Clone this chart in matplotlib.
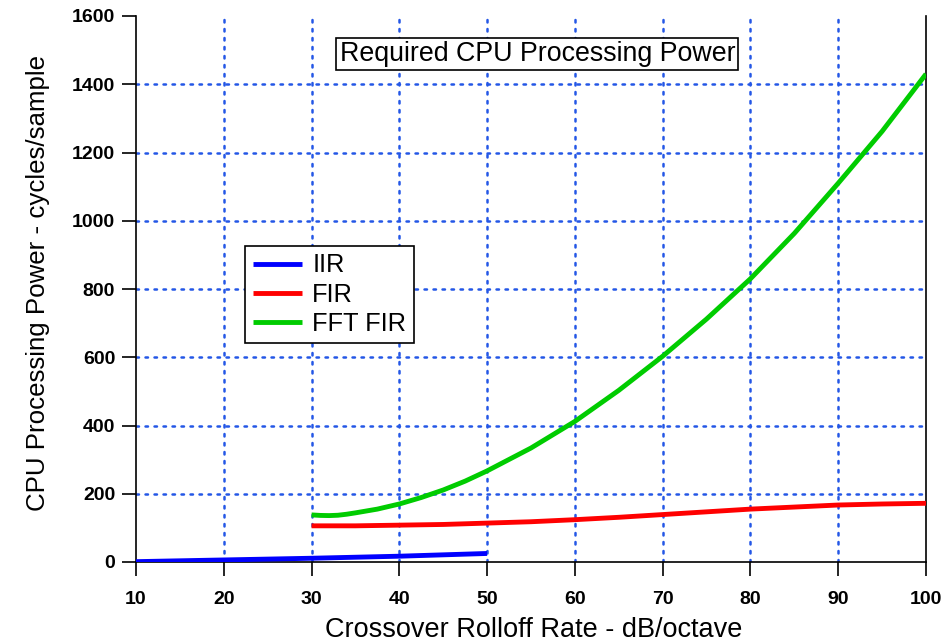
import matplotlib
matplotlib.use("Agg")
import matplotlib.pyplot as plt

plt.rcParams['font.family'] = ['Liberation Sans', 'DejaVu Sans']

# Crossover rolloff rate (dB/octave) vs. processing cost (cycles/sample)
iir_x = [10, 20, 30, 40, 50]
iir_y = [1, 6, 11, 17, 25]

fir_x = [30, 35, 40, 45, 50, 55, 60, 65, 70, 75, 80, 85, 90, 95, 100]
fir_y = [106, 106, 108, 110, 114, 118, 124, 131, 139, 147, 155, 161, 167, 170, 172]

fft_x = [30, 31, 32, 33, 34, 35, 37.5, 40, 42.5, 45, 47.5, 50, 55, 60, 65,
         70, 75, 80, 85, 90, 95, 100]
fft_y = [138, 136.5, 136, 137, 140, 144, 155, 170, 189, 211, 237, 267, 334,
         412, 503, 603, 712, 830, 963, 1110, 1262, 1430]

x_ticks = [10, 20, 30, 40, 50, 60, 70, 80, 90, 100]
y_ticks = [0, 200, 400, 600, 800, 1000, 1200, 1400, 1600]

fig = plt.figure(figsize=(9.43, 6.44), dpi=100)
ax = fig.add_axes([136 / 943, 1 - 562 / 644, 790 / 943, 546 / 644])

ax.set_xlim(10, 100)
ax.set_ylim(0, 1600)

grid_kw = dict(color='#2457e6', linestyle=(0, (1, 2.6)), linewidth=1.8,
               dash_capstyle='round', zorder=1)
for gx in x_ticks[1:-1]:
    ax.axvline(gx, **grid_kw)
for gy in y_ticks[1:-1]:
    ax.axhline(gy, **grid_kw)

line_kw = dict(lw=3.5, zorder=3, solid_capstyle='butt', solid_joinstyle='round')
ax.plot(iir_x, iir_y, color='#0000ff', label='IIR', **line_kw)
ax.plot(fir_x, fir_y, color='#ff0000', label='FIR', **line_kw)
ax.plot(fft_x, fft_y, color='#00cc00', label='FFT FIR', **line_kw)

ax.spines['top'].set_visible(False)
for s in ('left', 'bottom', 'right'):
    ax.spines[s].set_linewidth(1.2)

ax.set_xticks(x_ticks)
ax.set_yticks(y_ticks)
ax.tick_params(axis='both', direction='out', length=10, width=1.2,
               labelsize=14)
ax.tick_params(axis='x', pad=11)
ax.tick_params(axis='y', pad=5)
for lab in ax.get_xticklabels() + ax.get_yticklabels():
    lab.set_fontweight('bold')

# axis titles placed by hand (baseline positions in axes coordinates)
ax.text(0.503, -0.1374, 'Crossover Rolloff Rate - dB/octave',
        transform=ax.transAxes, ha='center', va='baseline', fontsize=19.5)
ax.text(-0.1152, 0.511, 'CPU Processing Power - cycles/sample',
        transform=ax.transAxes, ha='center', va='baseline', fontsize=18.6,
        rotation=90, rotation_mode='anchor')

ax.text(0.508, 0.930, 'Required CPU Processing Power', transform=ax.transAxes,
        ha='center', va='center', fontsize=19.3, zorder=5,
        bbox=dict(boxstyle='square,pad=0.12', facecolor='white',
                  edgecolor='black', linewidth=1.2))

leg = ax.legend(loc='upper left', bbox_to_anchor=(0.138, 0.579),
                fontsize=18.3, frameon=True, fancybox=False, framealpha=1,
                edgecolor='black', handlelength=1.95, handletextpad=0.4,
                labelspacing=0.2, borderpad=0.3, borderaxespad=0)
leg.get_frame().set_linewidth(1.2)

fig.savefig('out.png', dpi=100)
